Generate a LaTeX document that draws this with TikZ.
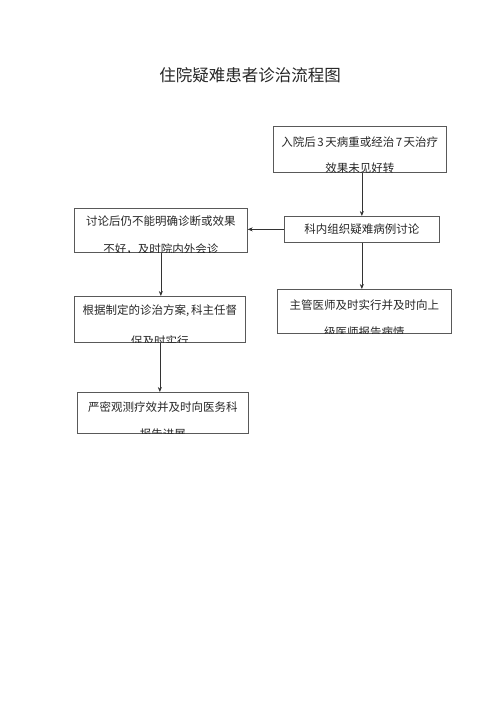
\documentclass[tikz,border=0pt]{standalone}
\usepackage{fontspec}
\setmainfont{Noto Sans CJK SC}
\usepackage{tikz}
\usetikzlibrary{positioning, calc, arrows.meta}

\tikzset{
	flowbox/.style={draw=black!65, line width=0.7pt, rectangle, inner sep=0pt, anchor=north west},
	boxlabel/.style={inner sep=0pt, anchor=base, text=black!85, font=\fontsize{11.5}{13}\selectfont},
	flowarrow/.style={-{Stealth[length=5pt, width=4pt]}, line width=0.6pt, draw=black!80},
}

% box with two lines of text, clipped at the box edge
\newcommand{\flowtext}[5]{%
	\begin{scope}
		\clip (#1.south west) rectangle (#1.north east);
		\node[boxlabel] (#1-one) at ($(#1.north)+(0,#2)$) {#4};
		\node[boxlabel] (#1-two) at ($(#1.north)+(0,#3)$) {#5};
	\end{scope}}
\newcommand{\dg}[1]{\hspace{1.5pt}#1\hspace{1.5pt}}

\begin{document}
\begin{tikzpicture}[x=1pt, y=-1pt]
	\useasboundingbox (0,0) rectangle (500,707);
	
	\node[anchor=base, text=black!85, font=\fontsize{16.5}{18}\selectfont] (title) at (250,81) {住院疑难患者诊治流程图};
	
	\node[flowbox, minimum width=173pt, minimum height=46pt] (admit) at (273,126) {};
	\node[flowbox, minimum width=155pt, minimum height=26pt] (discuss) at (284,216) {};
	\node[flowbox, minimum width=173pt, minimum height=44pt] (consult) at (74,208) {};
	\node[flowbox, minimum width=174pt, minimum height=44pt] (report) at (277,289) {};
	\node[flowbox, minimum width=171pt, minimum height=46pt] (plan) at (74,296) {};
	\node[flowbox, minimum width=171pt, minimum height=41pt] (observe) at (77,392) {};
	
	\flowtext{admit}{20}{46.5}{入院后\dg{3}天病重或经治\dg{7}天治疗}{效果未见好转}
	\node[boxlabel] (discuss-one) at ($(discuss.center)+(0,4)$) {科内组织疑难病例讨论};
	\flowtext{consult}{17}{45}{讨论后仍不能明确诊断或效果}{不好，及时院内外会诊}
	\flowtext{report}{20.5}{47}{主管医师及时实行并及时向上}{级医师报告病情}
	\flowtext{plan}{18.5}{49}{根据制定的诊治方案,\hspace{2pt}科主任督}{促及时实行}
	\flowtext{observe}{19}{46}{严密观测疗效并及时向医务科}{报告进展}
	
	\draw[flowarrow] (discuss.north |- admit.south) -- (discuss.north);
	\draw[flowarrow] (discuss.west) -- (discuss.west -| consult.east);
	\draw[flowarrow] (discuss.south) -- (discuss.south |- report.north);
	\draw[flowarrow] (consult.south) -- (consult.south |- plan.north);
	\draw[flowarrow] (plan.south) -- (plan.south |- observe.north);
\end{tikzpicture}
\end{document}
